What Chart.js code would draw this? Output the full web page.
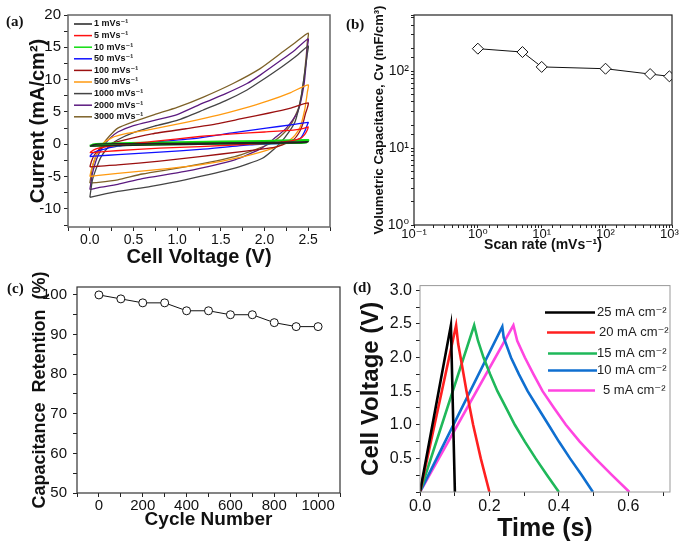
<!DOCTYPE html>
<html>
<head>
<meta charset="utf-8">
<script src="https://cdn.jsdelivr.net/npm/chart.js@4.4.1/dist/chart.umd.min.js"></script>
<style>
  body { margin: 0; background: #fff; width: 685px; height: 544px; position: relative; overflow: hidden; }
  .pan { position: absolute; }
  .tag { position: absolute; font: bold 15px "Liberation Serif", "Times New Roman", serif; color: #111; }
</style>
</head>
<body>
<div class="pan" style="left:0;top:0"><canvas id="cA" width="340" height="272"></canvas></div>
<div class="pan" style="left:340px;top:0"><canvas id="cB" width="345" height="272"></canvas></div>
<div class="pan" style="left:0;top:272px"><canvas id="cC" width="345" height="272"></canvas></div>
<div class="pan" style="left:345px;top:272px"><canvas id="cD" width="340" height="272"></canvas></div>
<div class="tag" style="left:6px;top:13px">(a)</div>
<div class="tag" style="left:346px;top:16px">(b)</div>
<div class="tag" style="left:7px;top:280px">(c)</div>
<div class="tag" style="left:353px;top:279px">(d)</div>
<script>
// (a) CV loops: [voltage V, current mA/cm2], anodic branch then cathodic branch
const cvLabels = ['1 mVs⁻¹', '5 mVs⁻¹', '10 mVs⁻¹', '50 mVs⁻¹', '100 mVs⁻¹', '500 mVs⁻¹', '1000 mVs⁻¹', '2000 mVs⁻¹', '3000 mVs⁻¹'];
const cv1 = [[0,-0.3],[0.05,-0.05],[0.15,0.05],[0.5,0.1],[1.0,0.15],[1.5,0.2],[2.0,0.28],[2.5,0.4],
  [2.48,0.3],[2.3,0.2],[1.5,0.05],[1.0,-0.05],[0.5,-0.15],[0.1,-0.25],[0,-0.3]];
const cv5 = [[0,-1.3],[0.04,-0.9],[0.1,-0.6],[0.3,-0.15],[0.7,0.4],[1.26,1.2],[1.64,1.6],[2.0,1.9],[2.33,2.2],[2.45,2.45],[2.5,2.7],
  [2.49,2.2],[2.46,1.5],[2.41,0.9],[2.29,0.5],[2.02,0.15],[1.26,-0.35],[0.8,-0.6],[0.3,-1.0],[0.1,-1.2],[0,-1.3]];
const cv10 = [[0,-0.25],[0.05,0],[0.2,0.1],[1.0,0.3],[2.0,0.5],[2.5,0.65],
  [2.48,0.3],[2.3,0.2],[1.5,0.1],[0.5,-0.1],[0.1,-0.2],[0,-0.25]];
const cv50 = [[0,-1.9],[0.03,-1.4],[0.1,-1.0],[0.32,-0.3],[0.8,0.4],[1.26,1.0],[1.65,1.8],[2.02,2.5],[2.3,3.0],[2.5,3.4],
  [2.49,3.0],[2.46,2.0],[2.41,0.9],[2.3,0.4],[2.21,0.15],[1.83,-0.1],[1.26,-0.8],[0.8,-1.2],[0.32,-1.6],[0.1,-1.8],[0,-1.9]];
const cv100 = [[0,-3.5],[0.02,-2.6],[0.05,-1.7],[0.1,-0.9],[0.2,-0.1],[0.32,0.4],[0.71,1.6],[1.1,2.4],[1.47,3.2],[1.75,4.0],[2.04,4.8],[2.3,5.6],[2.5,6.4],
  [2.49,5.6],[2.47,4.8],[2.44,3.2],[2.4,1.9],[2.33,0.7],[2.14,-0.4],[1.76,-1.1],[1.26,-1.9],[0.8,-2.6],[0.32,-3.2],[0.1,-3.4],[0,-3.5]];
const cv500 = [[0,-5.0],[0.02,-3.8],[0.05,-2.5],[0.09,-1.2],[0.13,-0.1],[0.25,1.0],[0.4,1.6],[0.7,2.3],[1.1,3.4],[1.47,4.5],[1.75,5.5],[2.04,6.7],[2.3,8.0],[2.5,9.2],
  [2.49,8.0],[2.48,7.0],[2.46,5.3],[2.41,2.7],[2.35,1.4],[2.29,0.66],[2.1,-0.6],[1.76,-1.9],[1.26,-3.2],[0.8,-3.9],[0.32,-4.5],[0.1,-4.8],[0,-5.0]];
const cv1000 = [[0,-8.2],[0.015,-6.8],[0.03,-5.5],[0.08,-3.5],[0.13,-1.9],[0.22,-0.3],[0.32,0.7],[0.5,1.8],[0.74,2.8],[1.0,3.7],[1.3,5.3],[1.55,6.7],[1.8,8.4],[1.95,9.7],[2.2,12.0],[2.35,13.5],[2.5,15.2],
  [2.49,14.0],[2.47,12.0],[2.42,7.4],[2.35,3.5],[2.23,1.0],[2.12,-0.6],[1.97,-2.2],[1.66,-3.7],[1.09,-5.5],[0.7,-6.5],[0.32,-7.3],[0.1,-7.9],[0,-8.2]];
const cv2000 = [[0,-7.0],[0.015,-5.8],[0.03,-4.5],[0.08,-2.2],[0.14,-0.6],[0.22,0.8],[0.32,1.9],[0.5,2.9],[0.74,3.7],[1.0,4.6],[1.3,6.4],[1.55,7.8],[1.8,9.4],[1.95,10.7],[2.2,13.1],[2.35,14.6],[2.5,16.3],
  [2.49,15.0],[2.48,13.0],[2.45,9.0],[2.38,5.0],[2.25,2.5],[2.12,1.0],[1.97,-0.6],[1.66,-2.4],[1.09,-4.2],[0.6,-5.3],[0.32,-6.2],[0.1,-6.7],[0,-7.0]];
const cv3000 = [[0,-6.0],[0.015,-4.7],[0.03,-3.5],[0.08,-1.5],[0.15,0],[0.22,1.2],[0.32,2.5],[0.5,3.5],[0.74,4.6],[1.0,5.7],[1.3,7.3],[1.64,9.4],[1.95,11.7],[2.21,14.3],[2.35,15.7],[2.5,17.2],
  [2.49,15.8],[2.48,14.0],[2.45,10.0],[2.4,6.0],[2.3,3.0],[2.18,1.2],[2.05,0],[1.66,-1.9],[1.09,-3.5],[0.6,-4.6],[0.32,-5.5],[0.1,-5.9],[0,-6.0]];
const cvSeries = [cv1, cv5, cv10, cv50, cv100, cv500, cv1000, cv2000, cv3000];
const cvColors = ['#222222', '#ff1010', '#10dd10', '#1010ff', '#9b1010', '#ff9a10', '#444444', '#5b1a80', '#7d6128'];

// (b) volumetric capacitance vs scan rate
const scanRate = [1, 5, 10, 100, 500, 1000];
const volCap = [197, 178, 114, 108, 92, 86];
const powTicks = {'-1': '10⁻¹', '0': '10⁰', '1': '10¹', '2': '10²', '3': '10³'};

// (c) cycling
const cycleNo = [0, 100, 200, 300, 400, 500, 600, 700, 800, 900, 1000];
const retention = [100, 99, 98, 98, 96, 96, 95, 95, 93, 92, 92];

// (d) charge / discharge: [time s, voltage V]
const gcdLabels = ['25 mA cm⁻²', '20 mA cm⁻²', '15 mA cm⁻²', '10 mA cm⁻²', '5 mA cm⁻²'];
const gcd25 = [[0,0],[0.089,2.48],[0.1005,0]];
const gcd20 = [[0,0],[0.104,2.48],[0.11,2.2],[0.117,2.0],[0.134,1.5],[0.153,1.0],[0.175,0.5],[0.2,0]];
const gcd15 = [[0,0],[0.156,2.48],[0.167,2.25],[0.183,2.0],[0.202,1.75],[0.223,1.5],[0.248,1.25],[0.273,1.0],[0.302,0.75],[0.333,0.5],[0.366,0.25],[0.4,0]];
const gcd10 = [[0,0],[0.237,2.46],[0.241,2.3],[0.262,2.0],[0.285,1.75],[0.31,1.5],[0.34,1.25],[0.37,1.0],[0.4,0.75],[0.432,0.5],[0.466,0.25],[0.498,0]];
const gcd5 = [[0,0],[0.269,2.48],[0.28,2.25],[0.302,2.0],[0.327,1.75],[0.353,1.5],[0.386,1.25],[0.42,1.0],[0.46,0.75],[0.505,0.5],[0.553,0.25],[0.603,0]];
const gcdSeries = [gcd25, gcd20, gcd15, gcd10, gcd5];
const gcdColors = ['#000000', '#ff2020', '#1fb85a', '#0f6fd0', '#ff45e0'];

Chart.defaults.font.family = '"Liberation Sans", Arial, "DejaVu Sans", sans-serif';
Chart.defaults.color = '#111';
Chart.defaults.animation = false;
Chart.defaults.responsive = false;
Chart.defaults.devicePixelRatio = 1;
Chart.defaults.plugins.legend.display = false;
Chart.defaults.plugins.tooltip.enabled = false;

const toXY = arr => arr.map(p => ({x: p[0], y: p[1]}));

// tick positions from start to end in equal steps
function tickRange(start, end, step) {
  const out = [];
  const n = Math.round((end - start) / step);
  for (let k = 0; k <= n; k++) out.push(Math.round((start + k * step) * 1000) / 1000);
  return out;
}

// frame round the plot area
const framePlugin = {
  id: 'frame',
  afterDraw(chart, args, o) {
    const {ctx, chartArea: a} = chart;
    ctx.save();
    ctx.strokeStyle = o.color;
    ctx.lineWidth = o.width;
    ctx.strokeRect(a.left, a.top, a.right - a.left, a.bottom - a.top);
    ctx.restore();
  }
};

// line + text legend drawn inside the plot area
const lineLegend = {
  id: 'lineLegend',
  afterDraw(chart, args, o) {
    if (!o.rows) return;
    const {ctx, chartArea: a} = chart;
    ctx.save();
    ctx.font = o.font;
    ctx.textBaseline = 'middle';
    chart.data.datasets.forEach((ds, i) => {
      const r = o.rows[i];
      const y = a.top + r.y;
      ctx.strokeStyle = ds.borderColor;
      ctx.lineWidth = o.lineWidth;
      ctx.beginPath();
      ctx.moveTo(a.left + r.x0, y);
      ctx.lineTo(a.left + r.x1, y);
      ctx.stroke();
      ctx.fillStyle = o.color;
      ctx.fillText(ds.label, a.left + r.tx, y);
    });
    ctx.restore();
  }
};

function axis(o) {
  return {
    type: o.type || 'linear',
    min: o.min, max: o.max,
    border: {display: false},
    grid: {drawOnChartArea: false, drawTicks: true, tickLength: o.tl || 4, tickColor: '#222', tickWidth: 1},
    ticks: {autoSkip: false, padding: o.pad, font: {size: o.fs}, color: '#111',
            maxRotation: 0, minRotation: 0, callback: o.cb},
    title: {display: true, text: o.title, color: '#111',
            font: {size: o.tfs, weight: 'bold'}, padding: o.tpad},
    afterBuildTicks: o.list ? (s => { s.ticks = o.list.map(v => ({value: v})); }) : undefined,
    afterFit: o.fit
  };
}

const near = (v, step) => Math.abs(v / step - Math.round(v / step)) < 1e-6;

// ---------- (a) ----------
const rowsA = cvLabels.map((l, i) => ({y: 9 + i * 11.6, x0: 6, x1: 24, tx: 26}));
new Chart(document.getElementById('cA'), {
  type: 'scatter',
  data: {
    datasets: cvSeries.map((s, i) => ({
      label: cvLabels[i], data: toXY(s), showLine: true, borderColor: cvColors[i],
      borderWidth: i === 2 ? 2.2 : 1.3, pointRadius: 0, tension: 0.2, fill: false
    }))
  },
  options: {
    layout: {padding: {left: 0, top: 15, right: 10, bottom: 0}},
    scales: {
      x: axis({min: -0.25, max: 2.75, list: tickRange(-0.25, 2.75, 0.25), pad: 1, fs: 14,
        cb: v => (v >= 0 && v <= 2.5 && near(v, 0.5)) ? v.toFixed(1) : '',
        title: 'Cell Voltage (V)', tfs: 20, tpad: {top: 0, bottom: 3},
        fit: s => { s.height = 45; }}),
      y: axis({min: -12.8, max: 20, list: tickRange(-12.5, 20, 2.5), pad: 3, fs: 15,
        cb: v => (v >= -10 && near(v, 5)) ? String(Math.round(v)) : '',
        title: 'Current (mA/cm²)', tfs: 20, tpad: {top: 26, bottom: 0},
        fit: s => { s.width = 68; }})
    },
    plugins: {
      frame: {color: '#666', width: 1.5},
      lineLegend: {rows: rowsA, font: 'bold 9px "Liberation Sans", Arial, "DejaVu Sans", sans-serif', color: '#111', lineWidth: 1.5}
    }
  },
  plugins: [framePlugin, lineLegend]
});

// ---------- (b) ----------
const powLabel = v => {
  const l = Math.log10(v);
  return near(l, 1) ? (powTicks[String(Math.round(l))] || '') : '';
};
new Chart(document.getElementById('cB'), {
  type: 'scatter',
  data: {
    datasets: [{
      data: scanRate.map((r, i) => ({x: r, y: volCap[i]})), showLine: true,
      borderColor: '#111', borderWidth: 1, pointStyle: 'rectRot', pointRadius: 5.5,
      pointBackgroundColor: '#fff', pointBorderColor: '#111', pointBorderWidth: 1
    }]
  },
  options: {
    layout: {padding: {left: 0, top: 15, right: 13, bottom: 0}},
    scales: {
      x: axis({type: 'logarithmic', min: 0.1, max: 1100, tl: 3, pad: -1, fs: 13, cb: powLabel,
        title: 'Scan rate (mVs⁻¹)', tfs: 14, tpad: {top: 0, bottom: 18},
        fit: s => { s.height = 47; }}),
      y: axis({type: 'logarithmic', min: 1, max: 540, tl: 3, pad: 2, fs: 14, cb: powLabel,
        title: 'Volumetric Capacitance, Cv (mF/cm³)', tfs: 13, tpad: {top: 32, bottom: 0},
        fit: s => { s.width = 74; }})
    },
    plugins: {frame: {color: '#222', width: 1.2}}
  },
  plugins: [framePlugin]
});

// ---------- (c) ----------
new Chart(document.getElementById('cC'), {
  type: 'scatter',
  data: {
    datasets: [{
      data: cycleNo.map((c, i) => ({x: c, y: retention[i]})), showLine: true,
      borderColor: '#111', borderWidth: 1, pointStyle: 'circle', pointRadius: 4,
      pointBackgroundColor: '#fff', pointBorderColor: '#111', pointBorderWidth: 1
    }]
  },
  options: {
    layout: {padding: {left: 0, top: 7, right: 4, bottom: 0}},
    scales: {
      x: axis({min: -100, max: 1100, list: tickRange(-100, 1100, 100), pad: 0, fs: 15,
        cb: v => (v >= 0 && v <= 1000 && near(v, 200)) ? String(Math.round(v)) : '',
        title: 'Cycle Number', tfs: 19, tpad: {top: 0, bottom: 13},
        fit: s => { s.height = 51; }}),
      y: axis({min: 50, max: 102, list: tickRange(50, 100, 5), pad: 6, fs: 15,
        cb: v => near(v, 10) ? String(Math.round(v)) : '',
        title: 'Capacitance  Retention  (%)', tfs: 18, tpad: {top: 29, bottom: 0},
        fit: s => { s.width = 77; }})
    },
    plugins: {frame: {color: '#333', width: 1.2}}
  },
  plugins: [framePlugin]
});

// ---------- (d) ----------
const rowsD = [
  {y: 27, x0: 125, x1: 175, tx: 177},
  {y: 47, x0: 127, x1: 175, tx: 179},
  {y: 68, x0: 128, x1: 177, tx: 177},
  {y: 85, x0: 128, x1: 177, tx: 177},
  {y: 105, x0: 128, x1: 175, tx: 183}
];
new Chart(document.getElementById('cD'), {
  type: 'scatter',
  data: {
    datasets: gcdSeries.map((s, i) => ({
      label: gcdLabels[i], data: toXY(s), showLine: true, borderColor: gcdColors[i],
      borderWidth: 2.6, pointRadius: 0, tension: 0, fill: false
    }))
  },
  options: {
    layout: {padding: {left: 0, top: 8, right: 15, bottom: 0}},
    scales: {
      x: axis({min: 0, max: 0.72, list: tickRange(0, 0.7, 0.1), pad: 1, fs: 16,
        cb: v => (v <= 0.6 + 1e-6 && near(v, 0.2)) ? v.toFixed(1) : '',
        title: 'Time (s)', tfs: 25, tpad: {top: 0, bottom: 0},
        fit: s => { s.height = 52; }}),
      y: axis({min: 0, max: 3.07, list: tickRange(0, 3.0, 0.25), pad: 4, fs: 16,
        cb: v => (v > 0.1 && near(v, 0.5)) ? v.toFixed(1) : '',
        title: 'Cell Voltage (V)', tfs: 24, tpad: {top: 12, bottom: 0},
        fit: s => { s.width = 75; }})
    },
    plugins: {
      frame: {color: '#999', width: 1},
      lineLegend: {rows: rowsD, font: '13px "Liberation Sans", Arial, "DejaVu Sans", sans-serif', color: '#222', lineWidth: 2.5}
    }
  },
  plugins: [framePlugin, lineLegend]
});
</script>
</body>
</html>
